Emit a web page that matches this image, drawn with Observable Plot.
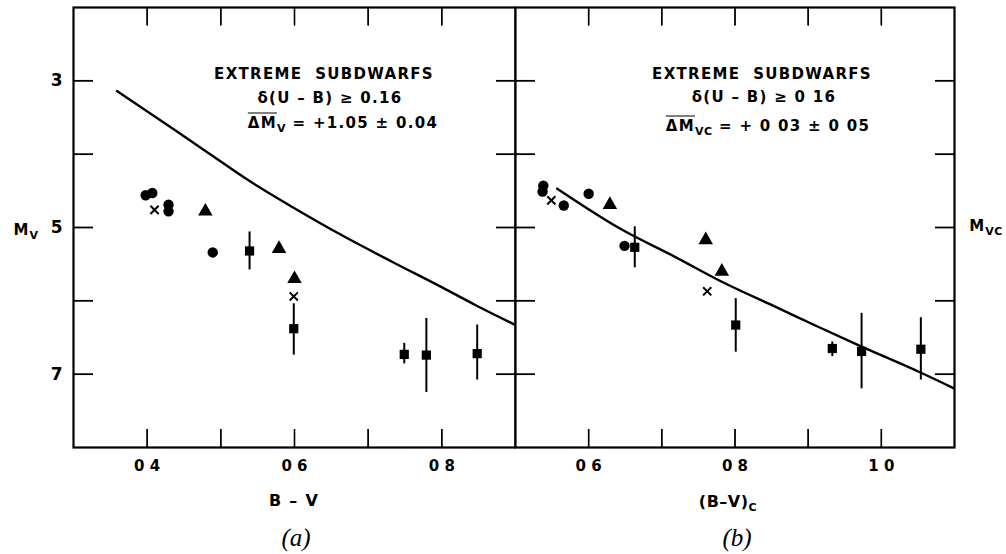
<!DOCTYPE html>
<html><head><meta charset="utf-8">
<script src="https://cdn.jsdelivr.net/npm/d3@7"></script>
<script src="https://cdn.jsdelivr.net/npm/@observablehq/plot@0.6"></script>
<style>
body{margin:0;background:#fff;}
#wrap{position:relative;width:1006px;height:554px;font-family:"DejaVu Sans",sans-serif;color:#000;overflow:hidden;}
#wrap svg{position:absolute;top:0;background:transparent;}
.t{position:absolute;white-space:nowrap;transform:translate(-50%,-50%);font-size:15px;font-weight:bold;letter-spacing:1.3px;line-height:1;}
.ov{text-decoration:overline;}
.sub{font-size:11px;position:relative;top:4px;letter-spacing:0.5px;}
.cap{position:absolute;transform:translate(-50%,-50%);font-family:"Liberation Serif",serif;font-style:italic;font-size:25px;line-height:1;}
</style></head><body><div id="wrap"></div>
<script>
// ---- axes ----
const yTicks = [3, 4, 5, 6, 7];
const yLabelTicks = [3, 5, 7];
const yTickLabels = ["3", "5", "7"];
const leftXTicks = [0.4, 0.5, 0.6, 0.7, 0.8];
const leftXLabelTicks = [0.4, 0.6, 0.8];
const leftXTickLabels = ["0 4", "0 6", "0 8"];
const rightXTicks = [0.6, 0.7, 0.8, 0.9, 1.0];
const rightXLabelTicks = [0.6, 0.8, 1.0];
const rightXTickLabels = ["0 6", "0 8", "1 0"];

// ---- panel (a): M_V vs B-V ----
const aLineBV = [0.359, 0.439, 0.484, 0.538, 0.597, 0.665, 0.733, 0.801, 0.846, 0.898];
const aLineM  = [3.14, 3.68, 3.99, 4.36, 4.72, 5.11, 5.47, 5.82, 6.06, 6.32];
const aCircBV = [0.398, 0.407, 0.429, 0.429, 0.489];
const aCircM  = [4.56, 4.53, 4.69, 4.78, 5.34];
const aCrossBV = [0.410, 0.599];
const aCrossM  = [4.76, 5.94];
const aTriBV = [0.479, 0.579, 0.600];
const aTriM  = [4.78, 5.29, 5.70];
const aSqBV = [0.539, 0.599, 0.749, 0.779, 0.848];
const aSqM  = [5.32, 6.38, 6.73, 6.74, 6.72];
const aSqLo = [5.06, 6.04, 6.58, 6.24, 6.33];
const aSqHi = [5.58, 6.74, 6.86, 7.25, 7.08];

// ---- panel (b): M_VC vs (B-V)c ----
const bLineBV = [0.557, 0.644, 0.718, 0.782, 0.855, 0.915, 0.970, 1.052, 1.105];
const bLineM  = [4.47, 5.02, 5.40, 5.74, 6.08, 6.36, 6.61, 6.97, 7.22];
const bCircBV = [0.538, 0.537, 0.566, 0.600, 0.649];
const bCircM  = [4.43, 4.51, 4.70, 4.54, 5.25];
const bCrossBV = [0.549, 0.762];
const bCrossM  = [4.63, 5.87];
const bTriBV = [0.629, 0.760, 0.782];
const bTriM  = [4.69, 5.17, 5.60];
const bSqBV = [0.663, 0.801, 0.933, 0.973, 1.054];
const bSqM  = [5.27, 6.33, 6.65, 6.69, 6.66];
const bSqLo = [4.99, 5.97, 6.56, 6.17, 6.23];
const bSqHi = [5.55, 6.70, 6.76, 7.20, 7.08];

const pts = (xs, ys) => xs.map((x, i) => ({x, y: ys[i]}));
const sq = (xs, ys, lo, hi) => xs.map((x, i) => ({x, y: ys[i], lo: lo[i], hi: hi[i]}));

const H = 554, MT = 7, MB = 107, TICK_Y = 20, TICK_X = 18;
const FH = H - MT - MB;
const blank = () => "";

function panel(o) {
  const marks = [
    // inward ticks on all four sides
    Plot.axisX(o.xTicks, {anchor: "top", tickSize: TICK_X, dy: TICK_X, tickFormat: blank, label: null}),
    Plot.axisX(o.xTicks, {anchor: "bottom", tickSize: TICK_X, dy: -TICK_X, tickFormat: blank, label: null}),
    Plot.tickX(o.xTicks, {x: d => d, insetBottom: FH - TICK_X, strokeWidth: 1.6}),
    Plot.tickX(o.xTicks, {x: d => d, insetTop: FH - TICK_X, strokeWidth: 1.6}),
    Plot.axisY(yTicks, {anchor: "left", tickSize: TICK_Y, dx: TICK_Y, tickFormat: blank, label: null, strokeWidth: 1.8}),
    Plot.axisY(yTicks, {anchor: "right", tickSize: TICK_Y, dx: -TICK_Y, tickFormat: blank, label: null, strokeWidth: 1.8}),
    Plot.axisX(o.xLabelTicks, {anchor: "bottom", tickSize: 0, tickPadding: 13, label: null,
      tickFormat: d => o.xTickLabels[o.xLabelTicks.indexOf(d)], fontSize: 15, fontWeight: "bold", letterSpacing: 1.5}),
    Plot.frame({strokeWidth: 2.2}),
    Plot.line(o.line, {x: "x", y: "y", curve: "monotone-x", strokeWidth: 2.4, clip: true}),
    Plot.ruleX(o.sq, {x: "x", y1: "lo", y2: "hi", strokeWidth: 2}),
    Plot.dot(o.sq, {x: "x", y: "y", symbol: "square", r: 5.2, fill: "black"}),
    Plot.dot(o.circ, {x: "x", y: "y", symbol: "circle", r: 5.2, fill: "black"}),
    Plot.dot(o.tri, {x: "x", y: "y", symbol: "triangle", r: 5.4, fill: "black"}),
    Plot.dot(o.cross, {x: "x", y: "y", symbol: "times", r: 3.8, stroke: "black", strokeWidth: 2})
  ];
  if (o.yLabels) marks.push(Plot.axisY(yLabelTicks, {anchor: "left", tickSize: 0, tickPadding: 11, label: null,
    tickFormat: d => yTickLabels[yLabelTicks.indexOf(d)], fontSize: 17, fontWeight: "bold"}));
  const svg = Plot.plot({
    width: o.width, height: H,
    marginLeft: o.marginLeft, marginRight: o.marginRight, marginTop: MT, marginBottom: MB,
    style: {background: "transparent", fontFamily: "DejaVu Sans"},
    x: {domain: o.xDomain, axis: null},
    y: {domain: [2, 8], reverse: true, axis: null},
    marks
  });
  svg.style.left = o.left + "px";
  return svg;
}

const wrap = document.getElementById("wrap");
wrap.appendChild(panel({
  left: 0, width: 516, marginLeft: 73, marginRight: 1, xDomain: [0.3, 0.9],
  xTicks: leftXTicks, xLabelTicks: leftXLabelTicks, xTickLabels: leftXTickLabels, yLabels: true,
  line: pts(aLineBV, aLineM), circ: pts(aCircBV, aCircM), cross: pts(aCrossBV, aCrossM),
  tri: pts(aTriBV, aTriM), sq: sq(aSqBV, aSqM, aSqLo, aSqHi)
}));
wrap.appendChild(panel({
  left: 514, width: 492, marginLeft: 1, marginRight: 52, xDomain: [0.5, 1.1],
  xTicks: rightXTicks, xLabelTicks: rightXLabelTicks, xTickLabels: rightXTickLabels, yLabels: false,
  line: pts(bLineBV, bLineM), circ: pts(bCircBV, bCircM), cross: pts(bCrossBV, bCrossM),
  tri: pts(bTriBV, bTriM), sq: sq(bSqBV, bSqM, bSqLo, bSqHi)
}));

const html = `
<div class="t" style="left:324px;top:74px">EXTREME&nbsp; SUBDWARFS</div>
<div class="t" style="left:330px;top:98px">δ(U – B) ≥ 0.16</div>
<div class="t" style="left:343px;top:123px"><span class="ov">ΔM</span><span class="sub">V</span> = +1.05 ± 0.04</div>
<div class="t" style="left:762px;top:74px">EXTREME&nbsp; SUBDWARFS</div>
<div class="t" style="left:764px;top:97px">δ(U – B) ≥ 0 16</div>
<div class="t" style="left:768px;top:126px"><span class="ov">ΔM</span><span class="sub">VC</span> = + 0 03 ± 0 05</div>
<div class="t" style="left:26px;top:230px;letter-spacing:1px"><span>M</span><span class="sub">V</span></div>
<div class="t" style="left:986px;top:226px;letter-spacing:1px"><span>M</span><span class="sub">VC</span></div>
<div class="t" style="left:294px;top:501px;font-size:16px">B – V</div>
<div class="t" style="left:728px;top:502px;font-size:16px;letter-spacing:0.5px">(B–V)<span class="sub">C</span></div>
<div class="cap" style="left:296px;top:537px">(a)</div>
<div class="cap" style="left:737px;top:537px">(b)</div>`;
wrap.insertAdjacentHTML("beforeend", html);
</script>
</body></html>
